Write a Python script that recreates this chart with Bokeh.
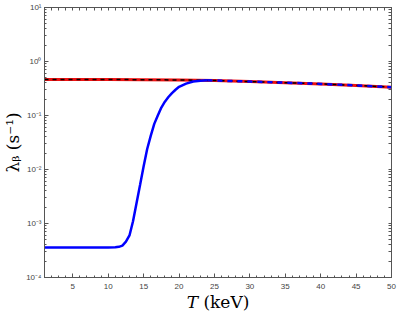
from bokeh.plotting import figure
from bokeh.models import (Range1d, LogAxis, LinearAxis, SingleIntervalTicker, LogTicker,
                          FixedTicker, CustomJSTickFormatter, ColumnDataSource)
from bokeh.embed import file_html
from bokeh.resources import INLINE

# ---- data ----
T_red = [1, 5, 10, 15, 20, 25, 30, 35, 40, 45, 50]
lam_red = [0.465, 0.465, 0.464, 0.46, 0.455, 0.445, 0.425, 0.405, 0.385, 0.36, 0.335]
T_black = [1, 5, 10, 15, 20, 25, 30, 35, 40, 45, 50]
lam_black = [0.465, 0.465, 0.464, 0.46, 0.455, 0.445, 0.425, 0.405, 0.385, 0.36, 0.335]
T_blue = [1, 5, 10, 11, 11.5, 12, 12.5, 13, 13.5, 14, 14.5, 15, 15.5, 16, 16.5, 17, 17.5,
          18, 18.5, 19, 19.5, 20, 21, 22, 23, 24, 25, 30, 35, 40, 45, 50]
lam_blue = [3.6e-4, 3.6e-4, 3.6e-4, 3.62e-4, 3.7e-4, 3.9e-4, 4.6e-4, 6.0e-4, 1.1e-3, 2.4e-3,
            5.2e-3, 1.15e-2, 2.4e-2, 4.2e-2, 7.0e-2, 0.10, 0.14, 0.18, 0.22, 0.26, 0.30, 0.34,
            0.39, 0.425, 0.44, 0.448, 0.445, 0.425, 0.405, 0.385, 0.36, 0.335]
T_merge = 24  # blue drawn dashed once it coincides with red
x_title = "\U0001D447 (keV)"
y_title = "\u03bb\u1d66 (s\u207b\u00b9)"

x_minor = list(range(1, 51))
y_minor = [m * 10.0 ** e for e in range(-4, 1) for m in range(1, 10)] + [10.0]

p = figure(width=399, height=314, output_backend="svg", toolbar_location=None,
           y_axis_type="log", x_range=Range1d(1, 50), y_range=Range1d(1e-4, 10),
           min_border_left=42, min_border_right=8, min_border_top=7, min_border_bottom=35)
p.grid.visible = False
p.outline_line_color = "#555555"
p.background_fill_color = "white"

sup = CustomJSTickFormatter(code="""
const m = {'-':'\u207b','0':'\u2070','1':'\u00b9','2':'\u00b2','3':'\u00b3','4':'\u2074',
           '5':'\u2075','6':'\u2076','7':'\u2077','8':'\u2078','9':'\u2079'};
const e = Math.round(Math.log10(tick)).toString();
let s = '';
for (const c of e) s += m[c];
return '10' + s;
""")

def style(ax):
    ax.axis_line_color = "#555555"
    ax.major_tick_line_color = "#555555"
    ax.minor_tick_line_color = "#555555"
    ax.major_tick_in = 4
    ax.major_tick_out = 0
    ax.minor_tick_in = 2
    ax.minor_tick_out = 0
    ax.major_label_text_color = "#444444"
    ax.major_label_text_font = "Liberation Sans"
    ax.major_label_text_font_size = "8px"
    ax.major_label_standoff = 4
    ax.axis_label_standoff = 0

xa = p.xaxis[0]
xa.ticker = SingleIntervalTicker(interval=5, num_minor_ticks=5)
style(xa)
xa.major_label_standoff = 6
xa.axis_label = x_title
xa.axis_label_text_font = "DejaVu Serif"
xa.axis_label_text_font_style = "normal"
xa.axis_label_text_font_size = "17px"
xa.axis_label_text_color = "black"

ya = p.yaxis[0]
ya.ticker = LogTicker(mantissas=[1], num_minor_ticks=10)
ya.formatter = sup
style(ya)
ya.major_label_standoff = 3
ya.axis_label = y_title
ya.axis_label_text_font = "DejaVu Serif"
ya.axis_label_text_font_style = "normal"
ya.axis_label_text_font_size = "17px"
ya.axis_label_text_color = "black"

top = LinearAxis(ticker=FixedTicker(ticks=[], minor_ticks=x_minor))
style(top)
top.minor_tick_in = 3
top.major_label_standoff = 0
p.add_layout(top, "above")
right = LogAxis(ticker=FixedTicker(ticks=[], minor_ticks=y_minor))
style(right)
right.minor_tick_in = 3
right.major_label_standoff = 0
p.add_layout(right, "right")

p.line(T_red, lam_red, line_color="#ee1111", line_width=3)
p.line(T_black, lam_black, line_color="black", line_width=1.5, line_dash="4 4")

src_solid = ColumnDataSource(dict(x=[t for t in T_blue if t <= T_merge],
                                  y=[v for t, v in zip(T_blue, lam_blue) if t <= T_merge]))
src_dash = ColumnDataSource(dict(x=[t for t in T_blue if t >= T_merge],
                                 y=[v for t, v in zip(T_blue, lam_blue) if t >= T_merge]))
p.line("x", "y", source=src_dash, line_color="#0000ff", line_width=2.5, line_dash="5 5")
p.line("x", "y", source=src_solid, line_color="#0000ff", line_width=2.5)

open("out.html", "w").write(file_html(p, INLINE))
